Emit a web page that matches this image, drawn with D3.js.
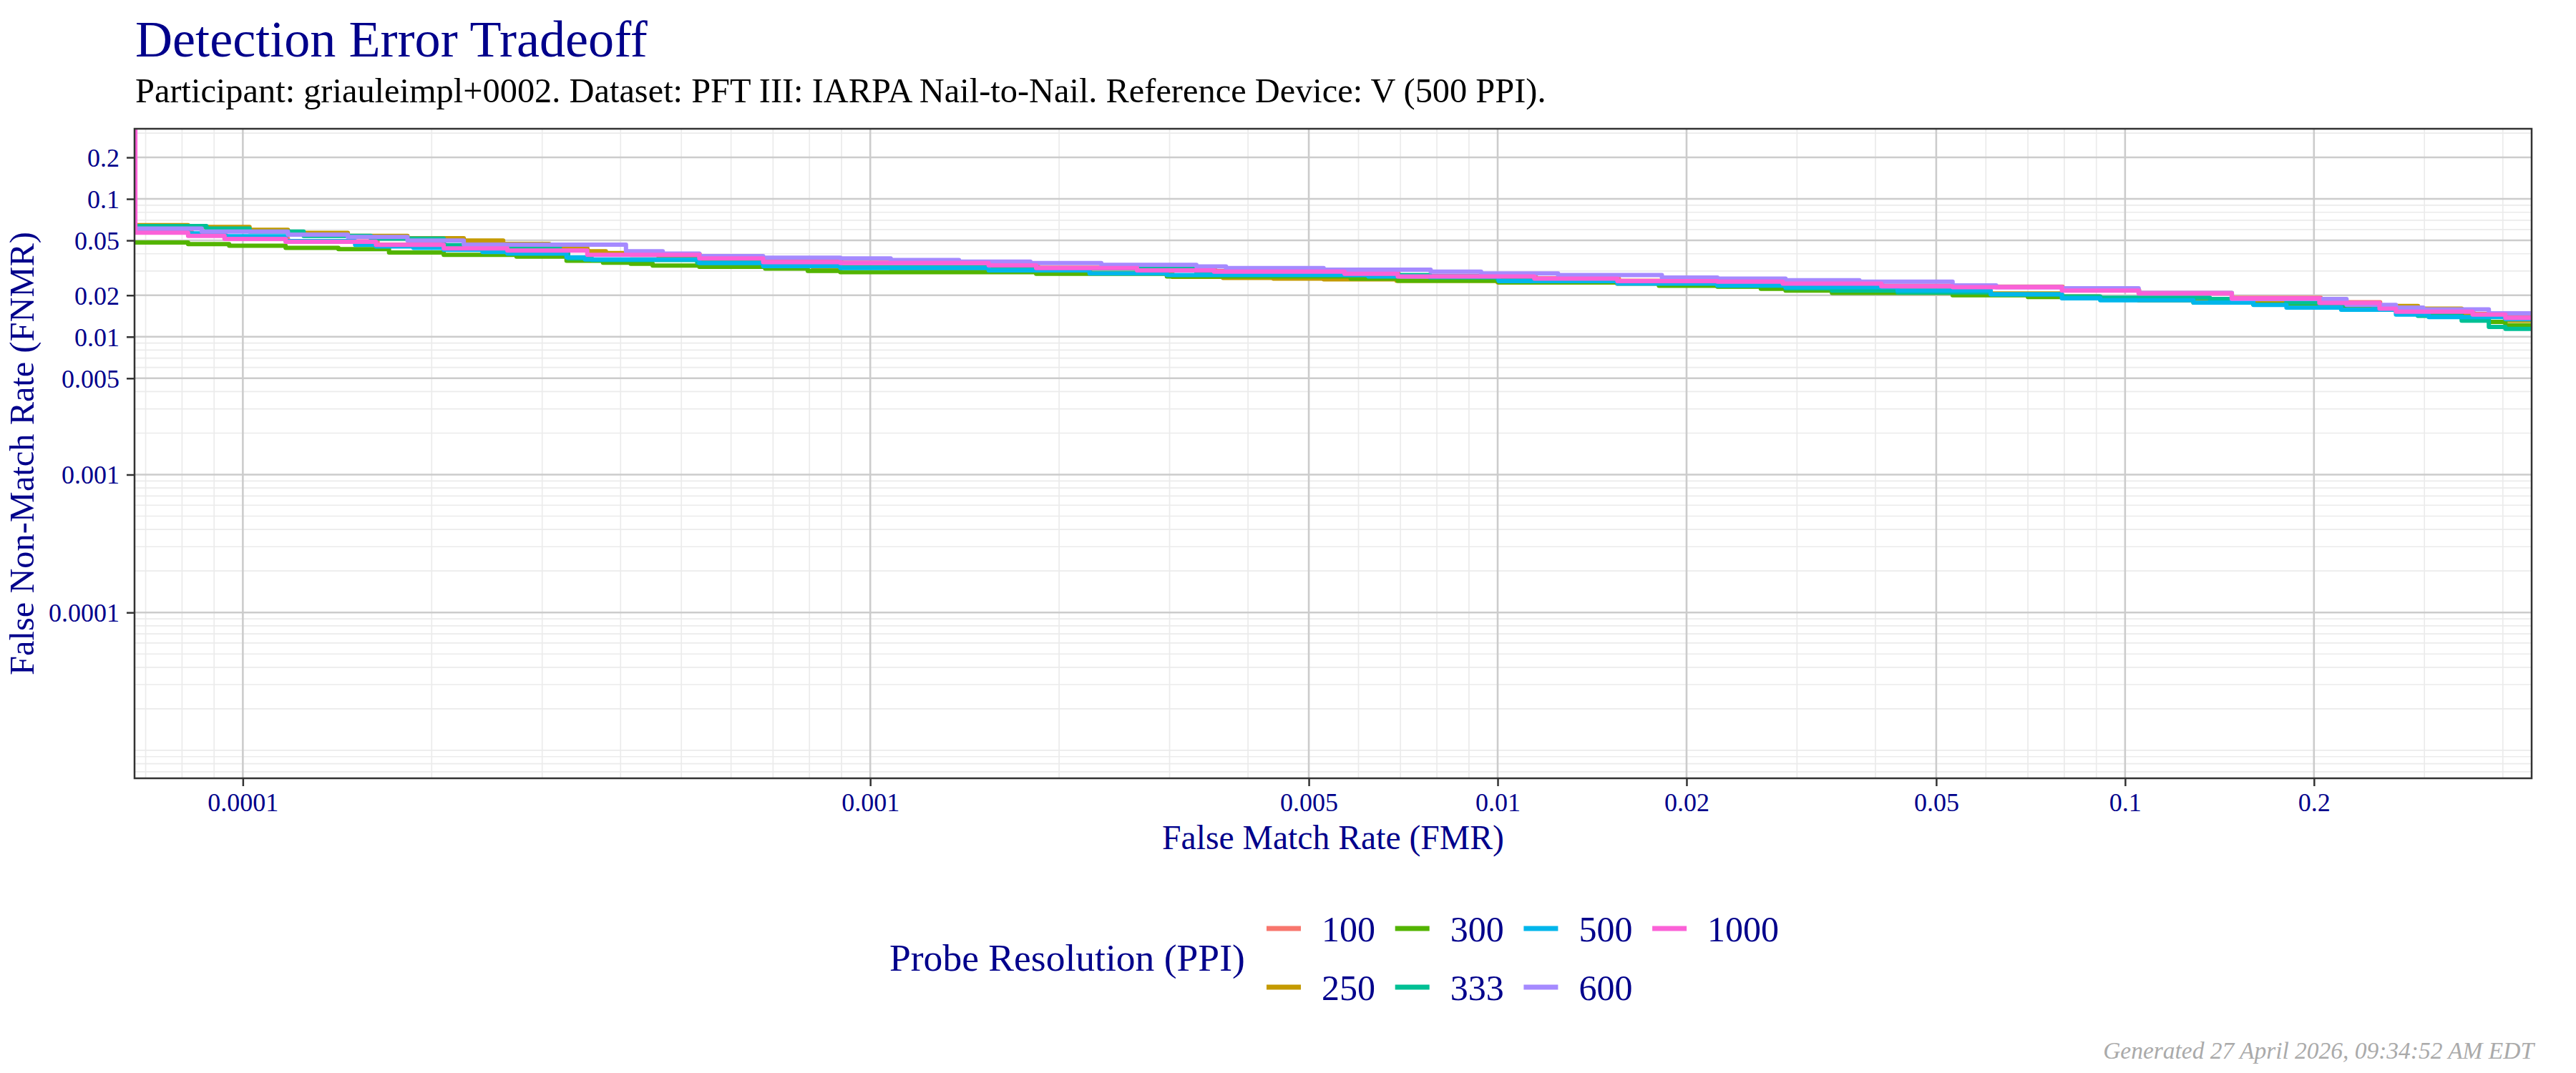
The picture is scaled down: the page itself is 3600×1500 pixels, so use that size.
<!DOCTYPE html>
<html lang="en">
<head>
<meta charset="UTF-8">
<title>Detection Error Tradeoff</title>
<style>
  body { margin: 0; background: #fff; }
  svg text { font-family: "Liberation Serif", "Times New Roman", serif; }
</style>
</head>
<body>
<svg id="chart" width="3600" height="1500"></svg>
<script src="https://d3js.org/d3.v7.min.js"></script>
<script>
// probe resolutions (legend order) and ggplot hue colours
const ppiLevels = ["100", "250", "300", "333", "500", "600", "1000"];
const ppiColors = ["#F8766D", "#C49A00", "#53B400", "#00C094", "#00B6EB", "#A58AFF", "#FB61D7"];

const xTicks = [0.0001, 0.001, 0.005, 0.01, 0.02, 0.05, 0.1, 0.2];
const xTickLabels = ["0.0001", "0.001", "0.005", "0.01", "0.02", "0.05", "0.1", "0.2"];
const yTicks = [0.2, 0.1, 0.05, 0.02, 0.01, 0.005, 0.001, 0.0001];
const yTickLabels = ["0.2", "0.1", "0.05", "0.02", "0.01", "0.005", "0.001", "0.0001"];

// DET step points: [FMR, FNMR]
const det100 = [[6.72e-5,0.0572],[8.3e-5,0.0545],[9.4e-5,0.0516],[1.18e-4,0.0492],[1.64e-4,0.0466],[2.1e-4,0.0440],[2.65e-4,0.0424],[3.55e-4,0.0396],[5.35e-4,0.0372],[6.8e-4,0.0350],[9.0e-4,0.0344],[1.55e-3,0.0331],[1.85e-3,0.0317],[2.67e-3,0.0305],[3.55e-3,0.0299],[5.7e-3,0.0288],[6.95e-3,0.0276],[1.15e-2,0.0266],[1.56e-2,0.0255],[2.25e-2,0.0253],[2.86e-2,0.0245],[4.1e-2,0.0234],[5.33e-2,0.0231],[7.95e-2,0.0218],[1.053e-1,0.0208],[1.48e-1,0.0192],[2.05e-1,0.0178],[2.55e-1,0.0162],[2.71e-1,0.0153],[3.59e-1,0.0146],[4.04e-1,0.0139],[4.446e-1,0.0139]];
const det250 = [[6.72e-5,0.0646],[8.18e-5,0.0626],[1.025e-4,0.0597],[1.18e-4,0.0567],[1.47e-4,0.0540],[1.83e-4,0.0519],[2.25e-4,0.0499],[2.60e-4,0.0472],[3.08e-4,0.0452],[3.54e-4,0.0417],[3.79e-4,0.0405],[4.15e-4,0.0393],[4.6e-4,0.0372],[5.3e-4,0.0355],[6.7e-4,0.0335],[8.1e-4,0.0318],[1.08e-3,0.0310],[1.54e-3,0.0300],[2.24e-3,0.0290],[3.03e-3,0.0272],[3.65e-3,0.0267],[4.39e-3,0.0264],[5.28e-3,0.0261],[6.9e-3,0.0255],[1.0e-2,0.0248],[1.55e-2,0.0243],[1.81e-2,0.0237],[2.24e-2,0.0232],[2.9e-2,0.0225],[4.1e-2,0.0216],[6.1e-2,0.0206],[7.9e-2,0.0196],[9.1e-2,0.0190],[1.05e-1,0.0184],[1.365e-1,0.0177],[1.6e-1,0.0175],[2.3e-1,0.0173],[2.49e-1,0.0167],[2.93e-1,0.0160],[3.44e-1,0.0145],[4.04e-1,0.0131],[4.446e-1,0.0131]];
const det300 = [[6.72e-5,0.0483],[8.18e-5,0.0470],[9.51e-5,0.0457],[1.17e-4,0.0442],[1.42e-4,0.0432],[1.71e-4,0.0409],[2.09e-4,0.0393],[2.73e-4,0.0381],[3.28e-4,0.0356],[3.75e-4,0.0345],[4.15e-4,0.0338],[4.5e-4,0.0328],[5.34e-4,0.0322],[6.8e-4,0.0312],[7.95e-4,0.0300],[8.96e-4,0.0294],[1.838e-3,0.0286],[2.97e-3,0.0274],[5.83e-3,0.0264],[6.93e-3,0.0255],[1.004e-2,0.0248],[1.807e-2,0.0234],[2.24e-2,0.0231],[2.627e-2,0.0223],[2.876e-2,0.0216],[3.41e-2,0.0208],[5.31e-2,0.0200],[7.0e-2,0.0194],[9.13e-2,0.0186],[1.285e-1,0.0177],[1.6e-1,0.0172],[2.04e-1,0.0165],[2.49e-1,0.0160],[2.93e-1,0.0150],[3.44e-1,0.0137],[3.8e-1,0.0128],[4.038e-1,0.0121],[4.446e-1,0.0121]];
const det333 = [[6.72e-5,0.0636],[8.75e-5,0.0609],[1.025e-4,0.0580],[1.25e-4,0.0540],[1.6e-4,0.0515],[2.09e-4,0.0461],[2.64e-4,0.0448],[3.2e-4,0.0420],[3.3e-4,0.0370],[3.6e-4,0.0360],[5.3e-4,0.0345],[6.75e-4,0.0330],[8.96e-4,0.0320],[1.544e-3,0.0312],[3.31e-3,0.0290],[5.7e-3,0.0280],[7.8e-3,0.0270],[1.0e-2,0.0260],[1.55e-2,0.0248],[2.24e-2,0.0234],[2.876e-2,0.0225],[3.41e-2,0.0216],[4.339e-2,0.0210],[6.108e-2,0.0203],[7.93e-2,0.0196],[9.13e-2,0.0192],[1.365e-1,0.0188],[1.808e-1,0.0177],[2.04e-1,0.0170],[2.49e-1,0.0160],[2.928e-1,0.0142],[3.439e-1,0.0131],[3.8e-1,0.0118],[4.038e-1,0.0114],[4.446e-1,0.0114]];
const det500 = [[6.72e-5,0.0585],[8.18e-5,0.0562],[9.35e-5,0.0536],[1.17e-4,0.0495],[1.51e-4,0.0464],[1.63e-4,0.0452],[1.87e-4,0.0442],[2.09e-4,0.0427],[2.41e-4,0.0412],[2.64e-4,0.0401],[3.28e-4,0.0377],[3.51e-4,0.0363],[5.34e-4,0.0342],[6.75e-4,0.0325],[8.96e-4,0.0315],[1.544e-3,0.0303],[2.236e-3,0.0288],[2.97e-3,0.0280],[6.22e-3,0.0274],[1.004e-2,0.0253],[1.552e-2,0.0243],[2.24e-2,0.0236],[2.876e-2,0.0229],[4.339e-2,0.0216],[6.108e-2,0.0203],[7.93e-2,0.0190],[9.13e-2,0.0184],[1.285e-1,0.0177],[1.602e-1,0.0170],[1.808e-1,0.0163],[2.21e-1,0.0157],[2.702e-1,0.0145],[3.048e-1,0.0139],[4.038e-1,0.0134],[4.446e-1,0.0134]];
const det600 = [[6.72e-5,0.0609],[8.6e-5,0.0580],[1.18e-4,0.0551],[1.47e-4,0.0530],[1.83e-4,0.0499],[2.25e-4,0.0466],[4.08e-4,0.0417],[4.67e-4,0.0401],[5.34e-4,0.0385],[6.75e-4,0.0375],[8.96e-4,0.0370],[1.078e-3,0.0360],[1.385e-3,0.0351],[1.8e-3,0.0342],[2.335e-3,0.0332],[3.31e-3,0.0324],[3.69e-3,0.0315],[5.28e-3,0.0307],[7.82e-3,0.0297],[9.41e-3,0.0288],[1.248e-2,0.0280],[1.827e-2,0.0269],[2.24e-2,0.0264],[2.876e-2,0.0257],[3.772e-2,0.0251],[5.31e-2,0.0236],[6.23e-2,0.0229],[7.93e-2,0.0225],[1.051e-1,0.0208],[1.479e-1,0.0188],[2.254e-1,0.0170],[2.702e-1,0.0163],[2.987e-1,0.0158],[3.8e-1,0.0148],[4.446e-1,0.0148]];
const det1000 = [[6.72e-5,0.33],[6.74e-5,0.0569],[8.18e-5,0.0540],[9.35e-5,0.0513],[1.17e-4,0.0489],[1.63e-4,0.0464],[2.09e-4,0.0437],[2.64e-4,0.0422],[3.54e-4,0.0393],[5.34e-4,0.0370],[6.75e-4,0.0348],[8.96e-4,0.0342],[1.544e-3,0.0329],[1.838e-3,0.0315],[2.662e-3,0.0303],[3.53e-3,0.0297],[5.7e-3,0.0286],[6.93e-3,0.0274],[1.144e-2,0.0264],[1.552e-2,0.0253],[2.24e-2,0.0251],[2.847e-2,0.0243],[4.087e-2,0.0232],[5.31e-2,0.0229],[7.93e-2,0.0216],[1.051e-1,0.0206],[1.479e-1,0.0190],[2.04e-1,0.0176],[2.544e-1,0.0160],[2.702e-1,0.0152],[3.58e-1,0.0145],[4.038e-1,0.0137],[4.446e-1,0.0137]];

const seriesData = [det100, det250, det300, det333, det500, det600, det1000];

const titleText = "Detection Error Tradeoff";
const subtitleText = "Participant: griauleimpl+0002. Dataset: PFT III: IARPA Nail-to-Nail. Reference Device: V (500 PPI).";
const footerText = "Generated 27 April 2026, 09:34:52 AM EDT";

const navy = "#00008B";
const svg = d3.select("#chart");

// panel box
const pL = 188, pR = 3538, pT = 180, pB = 1088;

const x = d3.scaleLog().domain([6.72e-5, 0.4446]).range([pL, pR]);
const y = d3.scaleLog().domain([6.27e-6, 0.3227]).range([pB, pT]);

// fit a text element to a given width by scaling its font size
function fitWidth(sel, w) {
  const len = sel.node().getComputedTextLength();
  const fs = parseFloat(sel.attr("font-size"));
  sel.attr("font-size", fs * w / len);
}

svg.append("rect").attr("width", 3600).attr("height", 1500).attr("fill", "#fff");

// minor grid at k * 10^e
function minorVals(scale) {
  const [a, b] = scale.domain();
  const out = [];
  for (let e = -7; e <= 0; e++) {
    for (let k = 1; k <= 9; k++) {
      const v = k * Math.pow(10, e);
      if (v > a && v < b) out.push(v);
    }
  }
  return out;
}

const grid = svg.append("g");
grid.selectAll(".vminor").data(minorVals(x)).join("line")
  .attr("x1", d => x(d)).attr("x2", d => x(d)).attr("y1", pT).attr("y2", pB)
  .attr("stroke", "#EBEBEB").attr("stroke-width", 1.7);
grid.selectAll(".hminor").data(minorVals(y)).join("line")
  .attr("y1", d => y(d)).attr("y2", d => y(d)).attr("x1", pL).attr("x2", pR)
  .attr("stroke", "#EBEBEB").attr("stroke-width", 1.7);
grid.selectAll(".vmajor").data(xTicks).join("line")
  .attr("x1", d => x(d)).attr("x2", d => x(d)).attr("y1", pT).attr("y2", pB)
  .attr("stroke", "#CCCCCC").attr("stroke-width", 2.6);
grid.selectAll(".hmajor").data(yTicks).join("line")
  .attr("y1", d => y(d)).attr("y2", d => y(d)).attr("x1", pL).attr("x2", pR)
  .attr("stroke", "#CCCCCC").attr("stroke-width", 2.6);

// curves
svg.append("clipPath").attr("id", "panel")
  .append("rect").attr("x", pL).attr("y", pT).attr("width", pR - pL).attr("height", pB - pT);

const line = d3.line()
  .x(d => x(d[0]))
  .y(d => y(d[1]))
  .curve(d3.curveStepAfter);

svg.append("g").attr("clip-path", "url(#panel)")
  .selectAll("path").data(seriesData).join("path")
  .attr("d", line)
  .attr("fill", "none")
  .attr("stroke", (d, i) => ppiColors[i])
  .attr("stroke-width", 6)
  .attr("stroke-linejoin", "round");

// panel border
svg.append("rect").attr("x", pL).attr("y", pT).attr("width", pR - pL).attr("height", pB - pT)
  .attr("fill", "none").attr("stroke", "#333333").attr("stroke-width", 2.5);

// axes
const xAxis = svg.append("g").attr("transform", `translate(0,${pB})`)
  .call(d3.axisBottom(x).tickValues(xTicks).tickFormat((d, i) => xTickLabels[i]).tickSize(11).tickPadding(10));
const yAxis = svg.append("g").attr("transform", `translate(${pL},0)`)
  .call(d3.axisLeft(y).tickValues(yTicks).tickFormat((d, i) => yTickLabels[i]).tickSize(11).tickPadding(10));
[xAxis, yAxis].forEach(ax => {
  ax.select(".domain").remove();
  ax.selectAll(".tick line").attr("stroke", "#333333").attr("stroke-width", 2.5);
  ax.selectAll(".tick text").attr("fill", navy).attr("font-size", 36)
    .attr("font-family", '"Liberation Serif", serif');
});
xAxis.selectAll(".tick text").attr("dy", null).attr("y", 46);
yAxis.selectAll(".tick text").attr("dy", "0.34em");

// titles
const title = svg.append("text").attr("x", 189).attr("y", 79)
  .attr("font-size", 72).attr("fill", navy).text(titleText);
fitWidth(title, 716);
const subtitle = svg.append("text").attr("x", 189).attr("y", 143)
  .attr("font-size", 44).attr("fill", "#000").text(subtitleText);
fitWidth(subtitle, 1972);

const xTitle = svg.append("text").attr("x", (pL + pR) / 2).attr("y", 1187)
  .attr("text-anchor", "middle").attr("font-size", 48).attr("fill", navy).text("False Match Rate (FMR)");
fitWidth(xTitle, 478);
const yTitle = svg.append("text").attr("transform", `translate(47,${(pT + pB) / 2}) rotate(-90)`)
  .attr("text-anchor", "middle").attr("font-size", 48).attr("fill", navy).text("False Non-Match Rate (FNMR)");
fitWidth(yTitle, 620);

// legend
const legend = svg.append("g");
const legTitle = legend.append("text").attr("x", 1243).attr("y", 1357)
  .attr("font-size", 52).attr("fill", navy).text("Probe Resolution (PPI)");
fitWidth(legTitle, 497);

const keyX0 = 1770, keyStep = 179.7, rowY0 = 1298, rowStep = 82;
const items = legend.selectAll(".key").data(ppiLevels).join("g")
  .attr("transform", (d, i) => `translate(${keyX0 + Math.floor(i / 2) * keyStep},${rowY0 + (i % 2) * rowStep})`);
items.append("line").attr("x1", 0).attr("x2", 48).attr("y1", 0).attr("y2", 0)
  .attr("stroke", (d, i) => ppiColors[i]).attr("stroke-width", 7);
items.append("text").attr("x", 77).attr("y", 18)
  .attr("font-size", 50).attr("fill", navy).text(d => d);

// footer
const footer = svg.append("text").attr("x", 3541).attr("y", 1480).attr("text-anchor", "end")
  .attr("font-size", 36).attr("font-style", "italic").attr("fill", "#AAAAAA").text(footerText);
fitWidth(footer, 602);
</script>
</body>
</html>
